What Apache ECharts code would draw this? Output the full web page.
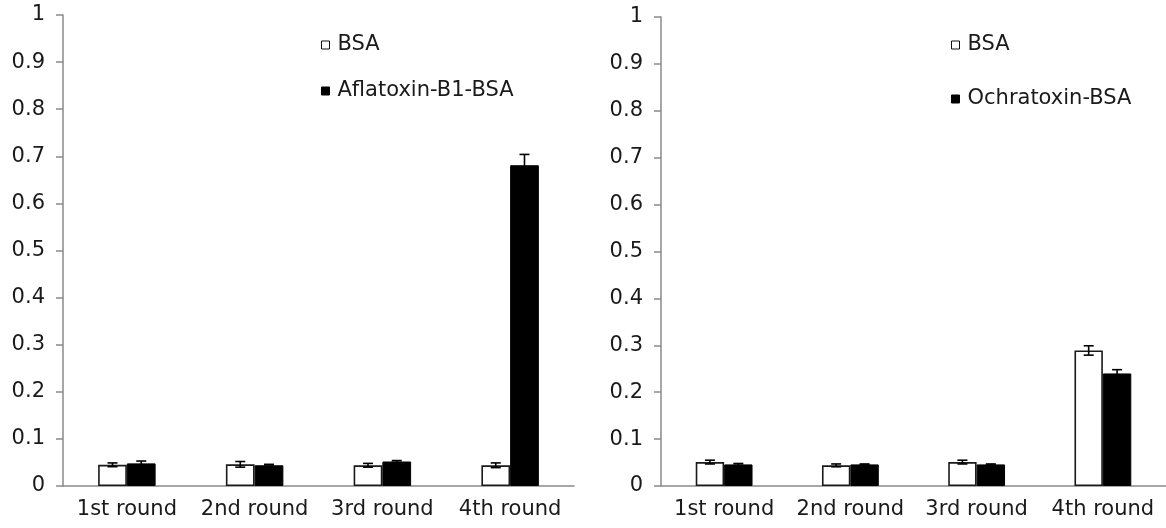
<!DOCTYPE html>
<html>
<head>
<meta charset="utf-8">
<script src="https://cdn.jsdelivr.net/npm/echarts@6/dist/echarts.min.js"></script>
<style>
  html, body { margin: 0; padding: 0; background: #fff; }
  #chart { width: 1166px; height: 528px; }
</style>
</head>
<body>
<div id="chart"></div>
<script>
// Round labels shared by both panels
const categories = ['1st round', '2nd round', '3rd round', '4th round'];
const yTicks = [0, 1, 0.1];   // min, max, interval

// Left panel: BSA vs Aflatoxin-B1-BSA (mean and error)
const bsaLeft = [0.045, 0.046, 0.044, 0.044];
const bsaLeftErr = [0.004, 0.006, 0.004, 0.005];
const aflatoxin = [0.048, 0.044, 0.052, 0.681];
const aflatoxinErr = [0.005, 0.002, 0.002, 0.023];

// Right panel: BSA vs Ochratoxin-BSA (mean and error)
const bsaRight = [0.051, 0.044, 0.051, 0.289];
const bsaRightErr = [0.004, 0.003, 0.004, 0.010];
const ochratoxin = [0.046, 0.046, 0.046, 0.240];
const ochratoxinErr = [0.002, 0.001, 0.001, 0.008];

const FONT = 'DejaVu Sans';
const TEXT = '#1a1a1a';
const AXIS_GREY = '#8a8a8a';
const BAR_FRACTION = 0.225;

function xAxisFor(gridIndex) {
  return {
    type: 'category', gridIndex, data: categories,
    axisLine: { lineStyle: { color: AXIS_GREY, width: 1.5 } },
    axisTick: { alignWithLabel: false, interval: 0, length: 6, lineStyle: { color: AXIS_GREY, width: 1.5 } },
    axisLabel: { interval: 0, color: TEXT, fontFamily: FONT, fontSize: 21, margin: 13 },
    splitLine: { show: false }
  };
}
function yAxisFor(gridIndex) {
  return {
    type: 'value', gridIndex, min: yTicks[0], max: yTicks[1], interval: yTicks[2],
    axisLine: { show: true, lineStyle: { color: AXIS_GREY, width: 1.5 } },
    axisTick: { show: true, length: 7, lineStyle: { color: AXIS_GREY, width: 1.5 } },
    axisLabel: { color: TEXT, fontFamily: FONT, fontSize: 21, margin: 18 },
    splitLine: { show: false }
  };
}

function barSeries(name, values, idx, filled) {
  return {
    type: 'bar', name, xAxisIndex: idx, yAxisIndex: idx, data: values,
    barWidth: (BAR_FRACTION * 100) + '%', barGap: '0%',
    itemStyle: filled
      ? { color: '#000', borderColor: '#000', borderWidth: 1 }
      : { color: '#fff', borderColor: '#1a1a1a', borderWidth: 1.6 },
    emphasis: { disabled: true }, z: 2
  };
}

// Error bar drawn at the centre of the left (sign -1) or right (sign +1) bar of a pair
function errorSeries(values, errs, idx, sign) {
  return {
    type: 'custom', xAxisIndex: idx, yAxisIndex: idx,
    data: values.map((v, i) => [i, v, errs[i]]),
    encode: { x: 0, y: 1 },
    z: 5,
    renderItem(params, api) {
      const i = api.value(0), v = api.value(1), e = api.value(2);
      const hi = api.coord([i, v + e]);
      const lo = api.coord([i, v - e]);
      const catW = api.size([1, 0])[0];
      const cx = hi[0] + sign * catW * BAR_FRACTION / 2;
      const half = 5;
      const style = { stroke: '#000', lineWidth: 1.6 };
      return {
        type: 'group',
        children: [
          { type: 'line', shape: { x1: cx, y1: hi[1], x2: cx, y2: lo[1] }, style },
          { type: 'line', shape: { x1: cx - half, y1: hi[1], x2: cx + half, y2: hi[1] }, style },
          { type: 'line', shape: { x1: cx - half, y1: lo[1], x2: cx + half, y2: lo[1] }, style }
        ]
      };
    }
  };
}

function legendItem(name, left, top, filled) {
  return {
    data: [name], orient: 'vertical', left, top, padding: 0,
    icon: 'rect', itemWidth: 8, itemHeight: 8, selectedMode: false,
    itemStyle: filled
      ? { color: '#000', borderColor: '#000', borderWidth: 1 }
      : { color: '#fff', borderColor: '#111', borderWidth: 1 },
    textStyle: { color: TEXT, fontFamily: FONT, fontSize: 21, lineHeight: 22, padding: [0, 0, 0, 3] }
  };
}

const chart = echarts.init(document.getElementById('chart'), null, { renderer: 'canvas' });
chart.setOption({
  animation: false,
  backgroundColor: '#fff',
  grid: [
    { left: 63, top: 15, width: 511, bottom: 42 },
    { left: 661, top: 17, right: 0, bottom: 42 }
  ],
  xAxis: [xAxisFor(0), xAxisFor(1)],
  yAxis: [yAxisFor(0), yAxisFor(1)],
  legend: [
    legendItem('BSA', 321, 34, false),
    legendItem('Aflatoxin-B1-BSA', 321, 80, true),
    legendItem('BSA', 951, 34, false),
    legendItem('Ochratoxin-BSA', 951, 88, true)
  ],
  series: [
    barSeries('BSA', bsaLeft, 0, false),
    barSeries('Aflatoxin-B1-BSA', aflatoxin, 0, true),
    barSeries('BSA', bsaRight, 1, false),
    barSeries('Ochratoxin-BSA', ochratoxin, 1, true),
    errorSeries(bsaLeft, bsaLeftErr, 0, -1),
    errorSeries(aflatoxin, aflatoxinErr, 0, 1),
    errorSeries(bsaRight, bsaRightErr, 1, -1),
    errorSeries(ochratoxin, ochratoxinErr, 1, 1)
  ]
});
</script>
</body>
</html>
